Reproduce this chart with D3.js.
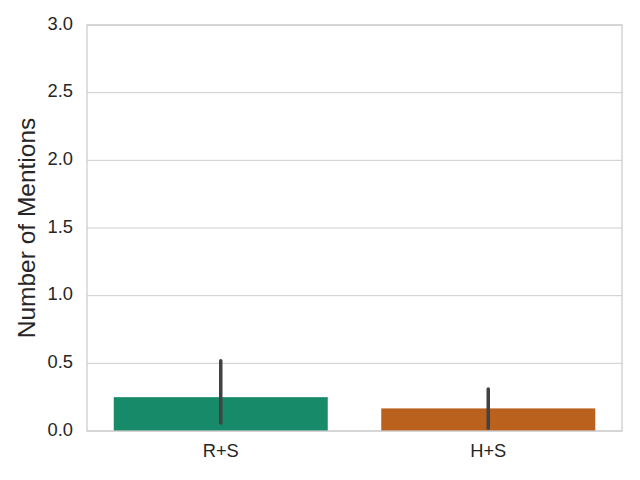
<!DOCTYPE html>
<html><head><meta charset="utf-8">
<script src="https://cdn.jsdelivr.net/npm/d3@7"></script>
<style>body{margin:0;background:#fff}svg{display:block}</style>
</head><body>
<script>
const categories = ["R+S", "H+S"];
const means = [0.25, 0.167];
const ciLow = [0.06, 0.02];
const ciHigh = [0.52, 0.31];
const colors = ["#178a6a", "#ba611e"];
const yTicks = [0, 0.5, 1.0, 1.5, 2.0, 2.5, 3.0];

const W = 640, H = 480;
const m = {left: 87, right: 18, top: 25, bottom: 49};
const svg = d3.select("body").append("svg").attr("width", W).attr("height", H);
const x = d3.scaleBand().domain(categories).range([m.left, W - m.right]).paddingInner(0.2).paddingOuter(0.1);
const y = d3.scaleLinear().domain([0, 3]).range([H - m.bottom, m.top]);
const font = "'Liberation Sans', Arial, sans-serif";

// grid
svg.append("g").selectAll("line").data(yTicks).join("line")
  .attr("x1", m.left).attr("x2", W - m.right)
  .attr("y1", d => y(d)).attr("y2", d => y(d))
  .attr("stroke", "#cccccc").attr("stroke-width", 1);

// bars
svg.append("g").selectAll("rect").data(categories).join("rect")
  .attr("x", d => x(d)).attr("width", x.bandwidth())
  .attr("y", (d, i) => y(means[i])).attr("height", (d, i) => y(0) - y(means[i]))
  .attr("fill", (d, i) => colors[i]);

// error bars
svg.append("g").selectAll("line").data(categories).join("line")
  .attr("x1", d => x(d) + x.bandwidth() / 2).attr("x2", d => x(d) + x.bandwidth() / 2)
  .attr("y1", (d, i) => y(ciLow[i])).attr("y2", (d, i) => y(ciHigh[i]))
  .attr("stroke", "#424242").attr("stroke-width", 3.5).attr("stroke-linecap", "round");

// frame
svg.append("rect").attr("x", m.left).attr("y", m.top)
  .attr("width", W - m.right - m.left).attr("height", H - m.bottom - m.top)
  .attr("fill", "none").attr("stroke", "#cccccc").attr("stroke-width", 1.25);

// y axis
const ya = svg.append("g").attr("transform", `translate(${m.left},0)`)
  .call(d3.axisLeft(y).tickValues(yTicks).tickFormat(d3.format(".1f")).tickSize(0).tickPadding(14));
ya.select(".domain").remove();
ya.selectAll("text").attr("font-family", font).attr("font-size", 18.3).attr("fill", "#262626").attr("dy", "0.22em");

// x axis
const xa = svg.append("g").attr("transform", `translate(0,${H - m.bottom})`)
  .call(d3.axisBottom(x).tickSize(0).tickPadding(13));
xa.select(".domain").remove();
xa.selectAll("text").attr("font-family", font).attr("font-size", 18.3).attr("fill", "#262626");

// y label
svg.append("text").attr("transform", `translate(35,${(m.top + H - m.bottom) / 2}) rotate(-90)`)
  .attr("text-anchor", "middle").attr("font-family", font).attr("font-size", 24.5)
  .attr("fill", "#262626").text("Number of Mentions");
</script>
</body></html>
